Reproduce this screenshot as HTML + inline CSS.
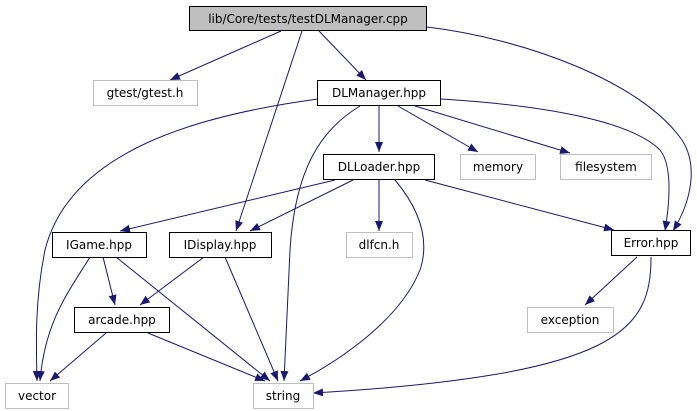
<!DOCTYPE html>
<html><head><meta charset="utf-8"><style>
html,body{margin:0;padding:0;background:#fff;}
svg{display:block;}
text{font-family:"DejaVu Sans","Liberation Sans",sans-serif;font-size:12px;fill:#000;}
</style></head><body>
<svg width="697" height="411" viewBox="0 0 697 411" xmlns="http://www.w3.org/2000/svg">
<defs><marker id="a" viewBox="0 0 10 10" refX="10" refY="5" markerWidth="10" markerHeight="10" markerUnits="userSpaceOnUse" orient="auto"><path d="M0,1 L10,5 L0,9 z" fill="#191970"/></marker></defs>
<g fill="none" stroke="#191970" stroke-width="1" marker-end="url(#a)">
<path d="M281,31 L170,80"/>
<path d="M319,31 L366,80"/>
<path d="M302,31 L236,231"/>
<path d="M427,27 C520,38 640,80 682,140 C698,165 692,200 673,231"/>
<path d="M318,99 C200,115 70,150 45,250 C35,300 36,340 37,381"/>
<path d="M360,106 C320,130 295,170 290,250 L284,381"/>
<path d="M379,106 L379,152"/>
<path d="M398,106 L478,152"/>
<path d="M415,106 L570,153"/>
<path d="M441,99 C540,105 630,120 660,150 C672,165 670,200 665,231"/>
<path d="M335,180 L120,231"/>
<path d="M353,180 L250,231"/>
<path d="M379,180 L379,231"/>
<path d="M395,180 C420,210 430,240 420,270 C400,320 340,360 300,381"/>
<path d="M425,180 L614,230"/>
<path d="M90,257 C70,290 45,320 40,381"/>
<path d="M103,257 L115,305"/>
<path d="M116,257 L270,381"/>
<path d="M204,257 L140,305"/>
<path d="M225,257 L278,381"/>
<path d="M106,333 L50,381"/>
<path d="M148,333 L265,381"/>
<path d="M637,257 L585,305"/>
<path d="M651,257 C651,330 620,375 313,393"/>
</g>
<g stroke-width="1">
<rect x="189.5" y="6.5" width="237" height="24" fill="#bfbfbf" stroke="#000"/>
<rect x="93.5" y="80.5" width="104" height="25" fill="#fff" stroke="#bfbfbf"/>
<rect x="317.5" y="80.5" width="123" height="25" fill="#fff" stroke="#000"/>
<rect x="323.5" y="154.5" width="111" height="25" fill="#fff" stroke="#000"/>
<rect x="460.5" y="154.5" width="75" height="25" fill="#fff" stroke="#bfbfbf"/>
<rect x="560.5" y="154.5" width="91" height="25" fill="#fff" stroke="#bfbfbf"/>
<rect x="52.5" y="232.5" width="94" height="25" fill="#fff" stroke="#000"/>
<rect x="169.5" y="232.5" width="102" height="25" fill="#fff" stroke="#000"/>
<rect x="346.5" y="232.5" width="66" height="25" fill="#fff" stroke="#bfbfbf"/>
<rect x="611.5" y="230.5" width="79" height="25" fill="#fff" stroke="#000"/>
<rect x="74.5" y="307.5" width="95" height="25" fill="#fff" stroke="#000"/>
<rect x="527.5" y="307.5" width="86" height="25" fill="#fff" stroke="#bfbfbf"/>
<rect x="5.5" y="383.5" width="63" height="25" fill="#fff" stroke="#bfbfbf"/>
<rect x="253.5" y="383.5" width="60" height="25" fill="#fff" stroke="#bfbfbf"/>
</g>
<g text-anchor="middle">
<text x="308" y="23">lib/Core/tests/testDLManager.cpp</text>
<text x="145" y="97">gtest/gtest.h</text>
<text x="379" y="97">DLManager.hpp</text>
<text x="379" y="171">DLLoader.hpp</text>
<text x="498" y="171">memory</text>
<text x="606" y="171">filesystem</text>
<text x="99" y="249">IGame.hpp</text>
<text x="220" y="249">IDisplay.hpp</text>
<text x="379" y="249">dlfcn.h</text>
<text x="651" y="247">Error.hpp</text>
<text x="122" y="324">arcade.hpp</text>
<text x="570" y="324">exception</text>
<text x="37" y="400">vector</text>
<text x="283" y="400">string</text>
</g>
</svg>
</body></html>
